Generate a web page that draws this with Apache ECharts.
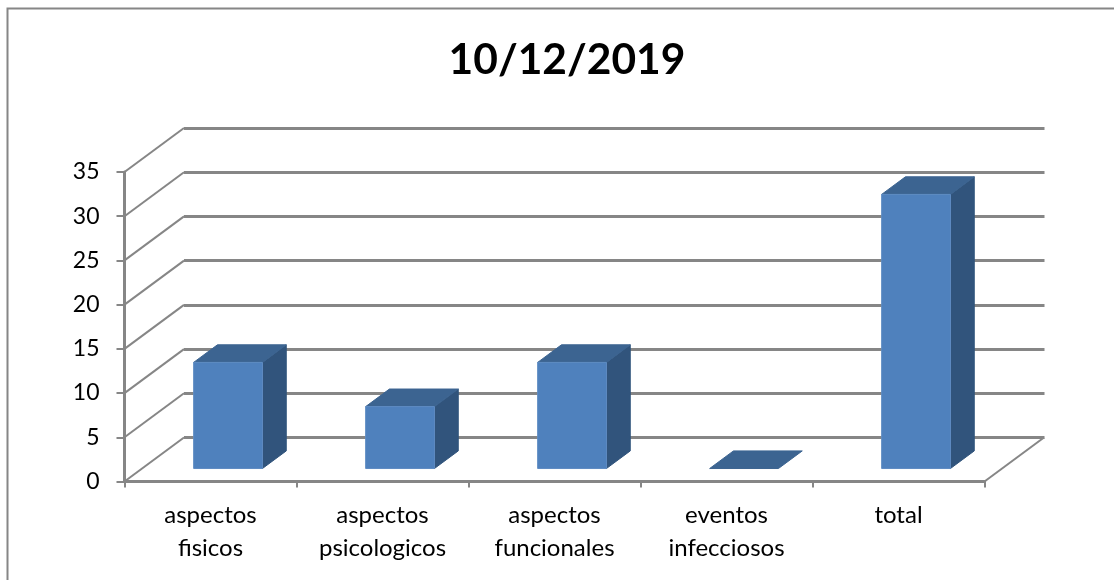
<!DOCTYPE html>
<html><head><meta charset="utf-8">
<style>html,body{margin:0;padding:0;background:#fff}#c{width:1114px;height:580px}</style>
<script src="https://cdn.jsdelivr.net/npm/echarts@6/dist/echarts.min.js"></script>
</head><body><div id="c"></div>
<script>
const title = '10/12/2019';
const categories = ['aspectos\nfisicos','aspectos\npsicologicos','aspectos\nfuncionales','eventos\ninfecciosos','total'];
const values = [12, 7, 12, 0, 31];
const wallTicks = [0, 5, 10, 15, 20, 25, 30, 35];

const FONT = 'Lato, Carlito, "Open Sans", sans-serif';
const LINE = '#868686';
const WALL_DX = 59.5, WALL_DY = -44;
const BAR_OFF = 0.295, BAR_DEPTH = 0.4, BAR_W = 0.4;

function wallItem(params, api) {
  const v = api.value(0);
  const band = api.size([1, 0])[0];
  const p = api.coord([0, v]);
  const x0 = p[0] - band / 2;
  const shapes = [{
    type: 'line',
    shape: {x1: x0, y1: p[1], x2: x0 + WALL_DX, y2: p[1] + WALL_DY},
    style: {stroke: LINE, lineWidth: 2}
  }];
  if (v === 0) {
    const x1 = api.coord([categories.length - 1, 0])[0] + band / 2;
    shapes.push({
      type: 'line',
      shape: {x1: x1, y1: p[1], x2: x1 + WALL_DX, y2: p[1] + WALL_DY},
      style: {stroke: LINE, lineWidth: 2}
    });
  }
  return {type: 'group', children: shapes};
}

function barItem(params, api) {
  const i = api.value(0), v = api.value(1);
  const band = api.size([1, 0])[0];
  const base = api.coord([i, 0]), top = api.coord([i, v]);
  const w = band * BAR_W;
  const xl = base[0] - w / 2 + WALL_DX * BAR_OFF;
  const xr = xl + w;
  const yb = base[1] + WALL_DY * BAR_OFF;
  const yt = top[1] + WALL_DY * BAR_OFF;
  const dx = WALL_DX * BAR_DEPTH, dy = WALL_DY * BAR_DEPTH;
  const edge = {lineWidth: 1, lineJoin: 'round'};
  const kids = [];
  if (v > 0) {
    kids.push({type: 'polygon',
      shape: {points: [[xr, yb], [xr + dx, yb + dy], [xr + dx, yt + dy], [xr, yt]]},
      style: Object.assign({fill: '#31547c', stroke: '#31547c'}, edge)});
  }
  kids.push({type: 'polygon',
    shape: {points: [[xl, yt], [xl + dx, yt + dy], [xr + dx, yt + dy], [xr, yt]]},
    style: Object.assign({fill: '#3c6491', stroke: '#3c6491'}, edge)});
  if (v > 0) {
    kids.push({type: 'rect',
      shape: {x: xl, y: yt, width: w, height: yb - yt},
      style: {fill: '#4f81bd', stroke: '#5f8cc3', lineWidth: 1}});
  }
  return {type: 'group', children: kids};
}

const chart = echarts.init(document.getElementById('c'), null, {renderer: 'canvas'});
chart.setOption({
  animation: false,
  backgroundColor: '#fff',
  title: {
    text: title, left: 562, top: 34, textAlign: 'center',
    textStyle: {fontFamily: FONT, fontSize: 42.5, fontWeight: 'bold', color: '#000'}
  },
  graphic: [{
    type: 'rect', silent: true, z: 0,
    shape: {x: 7.5, y: 8.5, width: 1300, height: 800},
    style: {fill: 'none', stroke: LINE, lineWidth: 2}
  }],
  grid: [
    {left: 124.5, top: 172, width: 860, height: 309.5},
    {left: 184, top: 128, width: 860.5, height: 309.5}
  ],
  xAxis: [
    {type: 'category', gridIndex: 0, data: categories, z: 5,
      axisLine: {lineStyle: {color: LINE, width: 3}},
      axisTick: {show: true, alignWithLabel: false, length: 6, lineStyle: {color: LINE, width: 2}},
      axisLabel: {interval: 0, margin: 17, color: '#000', fontFamily: FONT, fontSize: 24, lineHeight: 33}},
    {type: 'category', gridIndex: 1, data: categories, show: false}
  ],
  yAxis: [
    {type: 'value', gridIndex: 0, min: 0, max: 35, interval: 5, z: 5,
      splitLine: {show: false},
      axisLine: {show: true, lineStyle: {color: LINE, width: 3}},
      axisTick: {show: true, length: 8, lineStyle: {color: LINE, width: 2}},
      axisLabel: {margin: 25, padding: [3, 0, 0, 0], color: '#000', fontFamily: FONT, fontSize: 23}},
    {type: 'value', gridIndex: 1, min: 0, max: 35, interval: 5,
      axisLine: {show: false}, axisTick: {show: false}, axisLabel: {show: false},
      splitLine: {show: true, lineStyle: {color: LINE, width: 3}}}
  ],
  series: [
    {type: 'custom', name: 'walls', xAxisIndex: 0, yAxisIndex: 0, clip: false, z: 2,
      renderItem: wallItem, data: wallTicks.map(v => [v]), encode: {y: 0}, silent: true},
    {type: 'custom', name: '10/12/2019', xAxisIndex: 0, yAxisIndex: 0, clip: false, z: 3,
      renderItem: barItem, data: values.map((v, i) => [i, v]), encode: {x: 0, y: 1}}
  ]
});
</script></body></html>
